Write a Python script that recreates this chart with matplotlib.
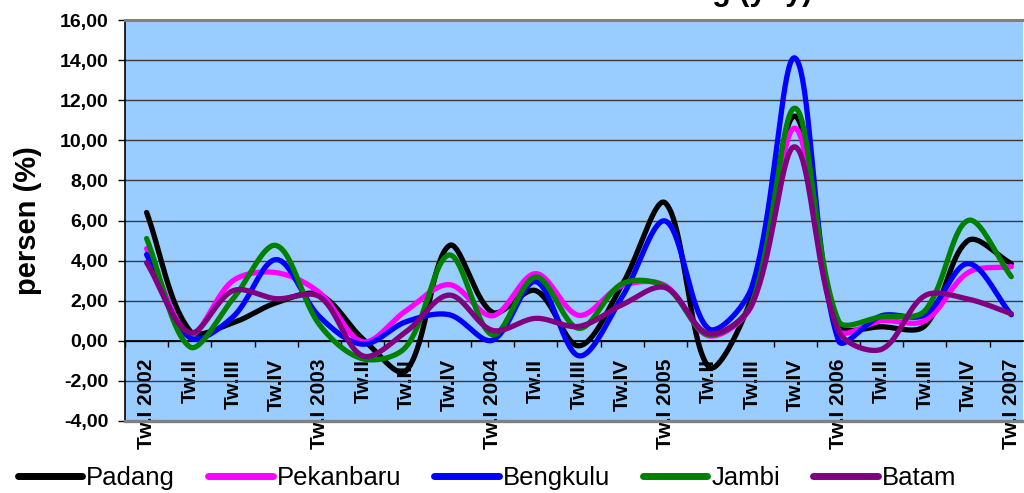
import numpy as np
import matplotlib
matplotlib.use("Agg")
import matplotlib.pyplot as plt
from matplotlib.ticker import FixedLocator, FuncFormatter, MultipleLocator

plt.rcParams['font.family'] = ['Liberation Sans', 'DejaVu Sans']

# Quarterly categories, 2002 Q1 .. 2007 Q1
quarters = ["Tw.I 2002", "Tw.II", "Tw.III", "Tw.IV",
            "Tw.I 2003", "Tw.II", "Tw.III", "Tw.IV",
            "Tw.I 2004", "Tw.II", "Tw.III", "Tw.IV",
            "Tw.I 2005", "Tw.II", "Tw.III", "Tw.IV",
            "Tw.I 2006", "Tw.II", "Tw.III", "Tw.IV",
            "Tw.I 2007"]

# Inflation (yoy, %) per city
padang    = [6.40, 0.50, 0.90, 1.90, 2.30, 0.10, -1.50, 4.75, 1.42, 2.50, -0.25,
             2.80, 6.87, -1.30, 2.20, 11.20, 0.80, 0.70, 0.75, 5.00, 3.85]
pekanbaru = [4.60, 0.35, 3.00, 3.40, 2.40, -0.05, 1.50, 2.80, 1.25, 3.35, 1.27,
             2.75, 2.75, 0.25, 1.80, 10.60, 0.55, 1.00, 1.00, 3.40, 3.70]
bengkulu  = [4.30, 0.15, 1.20, 4.05, 1.20, -0.17, 0.95, 1.30, 0.03, 2.95, -0.75,
             2.20, 5.97, 0.60, 2.70, 14.10, 0.02, 1.25, 1.30, 3.85, 1.30]
jambi     = [5.10, -0.30, 2.10, 4.75, 0.80, -0.90, -0.30, 4.28, 0.30, 3.18, 0.62,
             2.85, 2.70, 0.30, 1.90, 11.60, 1.00, 1.20, 1.50, 6.00, 3.20]
batam     = [3.90, 0.40, 2.50, 2.10, 2.20, -0.75, 0.45, 2.28, 0.52, 1.12, 0.72,
             1.80, 2.65, 0.35, 1.80, 9.67, 0.50, -0.42, 2.25, 2.08, 1.35]

series = [("Padang", padang, "#000000"),
          ("Pekanbaru", pekanbaru, "#FF00FF"),
          ("Bengkulu", bengkulu, "#0000FF"),
          ("Jambi", jambi, "#008000"),
          ("Batam", batam, "#800080")]

# screen scale (pixels per x unit / per y unit) used to weight the curve tangents
PX_X, PX_Y = 43.2, 20.0


def smooth_curve(values, steps=40, k=1.0 / 3.0):
    """Smoothed line: cubic Bezier pieces through every point, with control
    handles scaled by the neighbouring segment lengths on screen."""
    y = np.asarray(values, dtype=float)
    n = len(y)
    P = np.column_stack([np.arange(n) * PX_X, y * PX_Y])
    out_h = np.zeros_like(P)
    in_h = np.zeros_like(P)
    for i in range(n):
        p0 = P[i - 1] if i > 0 else P[i]
        p2 = P[i + 1] if i < n - 1 else P[i]
        d01 = np.linalg.norm(P[i] - p0)
        d12 = np.linalg.norm(p2 - P[i])
        tot = d01 + d12
        T = p2 - p0
        if tot == 0:
            out_h[i] = in_h[i] = P[i]
            continue
        out_h[i] = P[i] + T * k * d12 / tot
        in_h[i] = P[i] - T * k * d01 / tot
    t = np.linspace(0, 1, steps)[1:, None]
    pts = [P[0]]
    for i in range(n - 1):
        p1, c1, c2, p2 = P[i], out_h[i], in_h[i + 1], P[i + 1]
        seg = ((1 - t) ** 3) * p1 + 3 * ((1 - t) ** 2) * t * c1 \
            + 3 * (1 - t) * t ** 2 * c2 + t ** 3 * p2
        pts.extend(seg)
    pts = np.array(pts)
    return pts[:, 0] / PX_X, pts[:, 1] / PX_Y


W, H = 1024, 493
fig = plt.figure(figsize=(W / 100, H / 100), dpi=100)
ax = fig.add_axes([125 / W, 1 - 421 / H, (1023 - 125) / W, (421 - 20) / H])
ax.set_facecolor("#99CCFF")

for name, vals, col in series:
    xs, ys = smooth_curve(vals)
    ax.plot(xs, ys, color=col, lw=3.8, label=name,
            solid_capstyle="round", solid_joinstyle="round", zorder=3)

ax.set_ylim(-4, 16)
ax.set_xlim(-0.5, 20.27)

# y axis
ax.yaxis.set_major_locator(MultipleLocator(2))
ax.yaxis.set_major_formatter(FuncFormatter(lambda v, p: f"{v:.2f}".replace(".", ",")))
ax.yaxis.grid(True, color="#3a3a3a", lw=1.0)
ax.set_axisbelow(True)
ax.tick_params(axis="y", direction="out", length=5, width=1, pad=7,
               labelsize=14, color="#000000")
for lab in ax.get_yticklabels():
    lab.set_fontweight("bold")
ax.set_ylabel("persen (%)", fontsize=21, fontweight="bold")
ax.yaxis.set_label_coords(-0.092, 0.5)

# x axis crosses at zero
ax.spines["bottom"].set_position(("data", 0))
ax.spines["bottom"].set_color("#000000")
ax.spines["bottom"].set_linewidth(1.3)
ax.spines["left"].set_color("#000000")
ax.spines["left"].set_linewidth(1.2)
ax.spines["top"].set_color("#808080")
ax.spines["top"].set_linewidth(2.2)
ax.spines["right"].set_visible(False)
ax.axhline(-4, color="#808080", lw=2.4, clip_on=False, zorder=4)

ax.xaxis.set_major_locator(FixedLocator(range(len(quarters))))
ax.set_xticklabels(quarters, rotation=90, fontsize=15, fontweight="bold")
ax.xaxis.set_minor_locator(FixedLocator(np.arange(-0.5, 20, 1.0)))
ax.tick_params(axis="x", which="major", length=0, pad=13)
ax.tick_params(axis="x", which="minor", direction="out", length=4, width=1)

# Chart title, running off the top edge of the image
fig.text(812 / W, 1.0, "Inflasi Tahunan Kota-kota Sekitar Padang (yoy)",
         ha="right", va="baseline", fontsize=22, fontweight="bold")

leg = fig.legend(loc="center left", bbox_to_anchor=(18 / W, 1 - 478 / H),
                 ncol=5, frameon=False, fontsize=18.5, handlelength=2.5,
                 handletextpad=0.15, columnspacing=1.3, borderaxespad=0,
                 borderpad=0)
for ln in leg.get_lines():
    ln.set_linewidth(5)

fig.savefig("out.png", dpi=100)
